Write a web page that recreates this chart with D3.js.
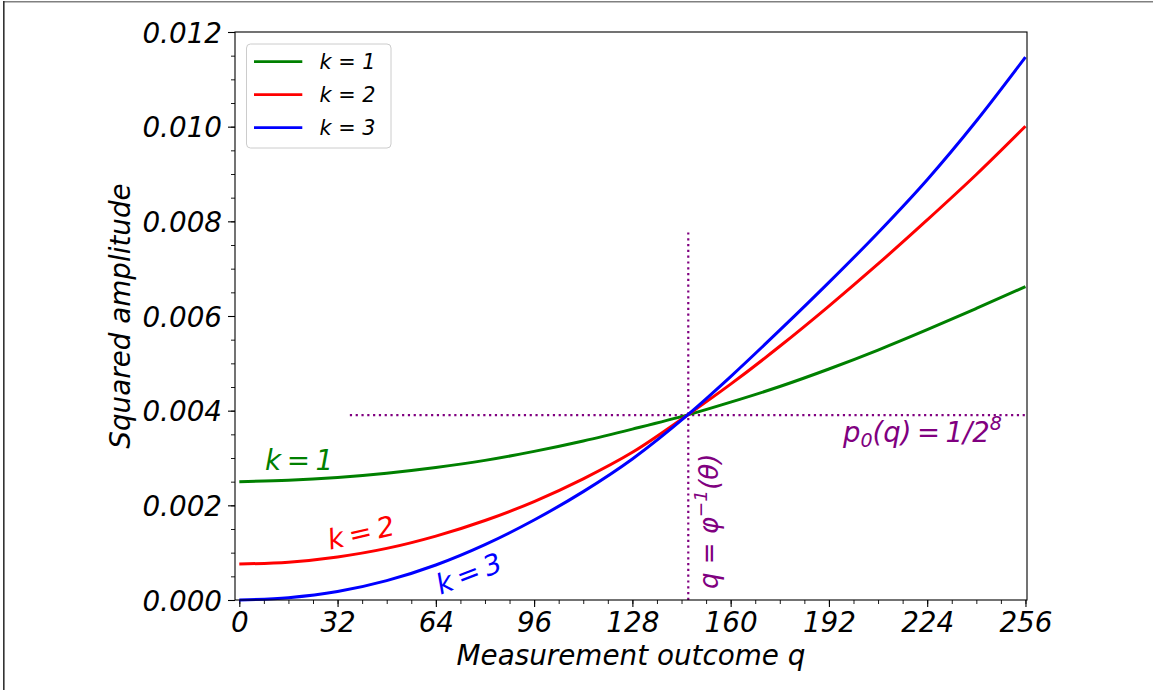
<!DOCTYPE html>
<html>
<head>
<meta charset="utf-8">
<script src="https://cdn.jsdelivr.net/npm/d3@7"></script>
<style>
  body { margin: 0; background: #fff; }
  text { font-family: "DejaVu Sans", sans-serif; font-style: italic; }
</style>
</head>
<body>
<div id="chart"></div>
<script>
var qValues = [0, 16, 32, 48, 64, 80, 96, 112, 128, 146, 160, 176, 192, 208, 224, 240, 256];
var k1Values = [0.00250, 0.00253, 0.00259, 0.00268, 0.00280, 0.00295, 0.00314, 0.00336, 0.00361, 0.00391, 0.00418, 0.00451, 0.00488, 0.00528, 0.00571, 0.00616, 0.00662];
var k2Values = [0.00076, 0.00080, 0.00091, 0.00109, 0.00135, 0.00168, 0.00208, 0.00256, 0.00312, 0.00391, 0.00456, 0.00536, 0.00621, 0.00710, 0.00803, 0.00899, 0.01001];
var k3Values = [0, 0.00005, 0.00018, 0.00041, 0.00074, 0.00117, 0.00169, 0.00229, 0.00298, 0.00391, 0.00472, 0.00570, 0.00671, 0.00776, 0.00888, 0.01012, 0.01147];
var seriesNames = ["k = 1", "k = 2", "k = 3"];
var seriesColors = ["#008000", "#ff0000", "#0000ff"];

var xTicks = [0, 32, 64, 96, 128, 160, 192, 224, 256];
var yTicks = [0, 0.002, 0.004, 0.006, 0.008, 0.010, 0.012];

// reference lines
var p0 = 0.00390625;      // 1/2^8
var crossQ = 146.2;
var hLineStart = 36;
var vLineTop = 0.0078125;

var W = 1153, H = 690;
var plotL = 235, plotR = 1027, plotT = 32, plotB = 600;

var svg = d3.select("#chart").append("svg")
  .attr("width", W)
  .attr("height", H);

svg.append("rect").attr("width", W).attr("height", H).attr("fill", "#fff");

// screenshot frame
svg.append("rect").attr("x", 3).attr("y", 1).attr("width", W - 3).attr("height", 1.5).attr("fill", "#808080");
svg.append("rect").attr("x", 3).attr("y", 1).attr("width", 1.6).attr("height", H).attr("fill", "#333");

var x = d3.scaleLinear().domain([-1.4, 256.5]).range([plotL, plotR]);
var y = d3.scaleLinear().domain([0, 0.012]).range([plotB, plotT]);

// minor ticks
var xAxisMinor = d3.axisBottom(x).tickValues(d3.range(0, 257, 8)).tickSize(4).tickFormat("");
var yAxisMinor = d3.axisLeft(y).tickValues(d3.range(0, 0.01201, 0.0005)).tickSize(4).tickFormat("");

svg.append("g").attr("transform", "translate(0," + plotB + ")").call(xAxisMinor)
  .call(function(g) { g.select(".domain").remove(); })
  .selectAll("line").attr("stroke-width", 0.9);
svg.append("g").attr("transform", "translate(" + plotL + ",0)").call(yAxisMinor)
  .call(function(g) { g.select(".domain").remove(); })
  .selectAll("line").attr("stroke-width", 0.9);

// major ticks
var xAxis = d3.axisBottom(x).tickValues(xTicks).tickSize(7).tickFormat(d3.format("d"));
var yAxis = d3.axisLeft(y).tickValues(yTicks).tickSize(7).tickFormat(d3.format(".3f"));

var gx = svg.append("g").attr("transform", "translate(0," + plotB + ")").call(xAxis);
gx.select(".domain").remove();
gx.selectAll("line").attr("stroke-width", 1.1);
gx.selectAll("text")
  .attr("y", 32).attr("dy", null)
  .attr("font-size", "27.8px")
  .attr("font-family", "DejaVu Sans")
  .attr("font-style", "italic")
  .attr("fill", "#000");

var gy = svg.append("g").attr("transform", "translate(" + plotL + ",0)").call(yAxis);
gy.select(".domain").remove();
gy.selectAll("line").attr("stroke-width", 1.1);
gy.selectAll("text")
  .attr("x", -13).attr("dy", "0.36em")
  .attr("font-size", "27.8px")
  .attr("font-family", "DejaVu Sans")
  .attr("font-style", "italic")
  .attr("fill", "#000");

// axis labels
svg.append("text")
  .attr("x", (plotL + plotR) / 2).attr("y", 665)
  .attr("text-anchor", "middle")
  .attr("font-size", "27.8px")
  .text("Measurement outcome q");

svg.append("text")
  .attr("transform", "translate(130," + ((plotT + plotB) / 2) + ") rotate(-90)")
  .attr("text-anchor", "middle")
  .attr("font-size", "27.8px")
  .text("Squared amplitude");

// dotted reference lines
svg.append("line")
  .attr("x1", x(hLineStart)).attr("x2", x(256.5))
  .attr("y1", y(p0)).attr("y2", y(p0))
  .attr("stroke", "#800080").attr("stroke-width", 2.2)
  .attr("stroke-dasharray", "2.2,3.6");
svg.append("line")
  .attr("x1", x(crossQ)).attr("x2", x(crossQ))
  .attr("y1", y(0)).attr("y2", y(vLineTop))
  .attr("stroke", "#800080").attr("stroke-width", 2.2)
  .attr("stroke-dasharray", "2.2,3.6");

// curves
var series = [k1Values, k2Values, k3Values];
var line = d3.line()
  .x(function(d) { return x(d[0]); })
  .y(function(d) { return y(d[1]); })
  .curve(d3.curveMonotoneX);

series.forEach(function(vals, i) {
  svg.append("path")
    .datum(qValues.map(function(q, j) { return [q, vals[j]]; }))
    .attr("d", line)
    .attr("fill", "none")
    .attr("stroke", seriesColors[i])
    .attr("stroke-width", 3);
});

// frame
svg.append("rect")
  .attr("x", plotL).attr("y", plotT)
  .attr("width", plotR - plotL).attr("height", plotB - plotT)
  .attr("fill", "none").attr("stroke", "#000").attr("stroke-width", 1.1);

// curve labels
var curveLabels = [
  { q: 8.4, v: 0.00275, rot: 0, text: "k\u2009=\u20091" },
  { q: 29.5, v: 0.00106, rot: -13, text: "k\u2009=\u20092" },
  { q: 65.5, v: 0.00011, rot: -21, text: "k\u2009=\u20093" }
];
curveLabels.forEach(function(d, i) {
  svg.append("text")
    .attr("transform", "translate(" + x(d.q) + "," + y(d.v) + ") rotate(" + d.rot + ")")
    .attr("font-size", "27.8px")
    .attr("fill", seriesColors[i])
    .text(d.text);
});

// q = phi^-1(theta)
var qt = svg.append("text")
  .attr("transform", "translate(" + x(155.9) + "," + y(0.00023) + ") rotate(-90)")
  .attr("font-size", "26px")
  .attr("fill", "#800080");
qt.append("tspan").text("q = φ");
qt.append("tspan").attr("dy", -11).attr("font-size", "18.5px").text("−1");
qt.append("tspan").attr("dy", 11).text("(θ)");

// p0(q) = 1/2^8
var pt = svg.append("text")
  .attr("x", x(196.6)).attr("y", y(0.00334))
  .attr("font-size", "27.5px")
  .attr("fill", "#800080");
pt.append("tspan").text("p");
pt.append("tspan").attr("dy", 5).attr("font-size", "19px").text("0");
pt.append("tspan").attr("dy", -5).text("(q)\u2009=\u20091/2");
pt.append("tspan").attr("dy", -12).attr("font-size", "19px").text("8");

// legend
var legend = svg.append("g").attr("transform", "translate(246.5,44)");
legend.append("rect")
  .attr("width", 144.5).attr("height", 104)
  .attr("rx", 4).attr("ry", 4)
  .attr("fill", "#fff").attr("fill-opacity", 0.8)
  .attr("stroke", "#cccccc").attr("stroke-width", 1);
seriesNames.forEach(function(name, i) {
  var ly = 17.7 + i * 33;
  legend.append("line")
    .attr("x1", 7.5).attr("x2", 55.8)
    .attr("y1", ly).attr("y2", ly)
    .attr("stroke", seriesColors[i]).attr("stroke-width", 2.8);
  legend.append("text")
    .attr("x", 73).attr("y", ly + 7.5)
    .attr("font-size", "20.8px")
    .attr("fill", "#000")
    .text(name);
});
</script>
</body>
</html>
